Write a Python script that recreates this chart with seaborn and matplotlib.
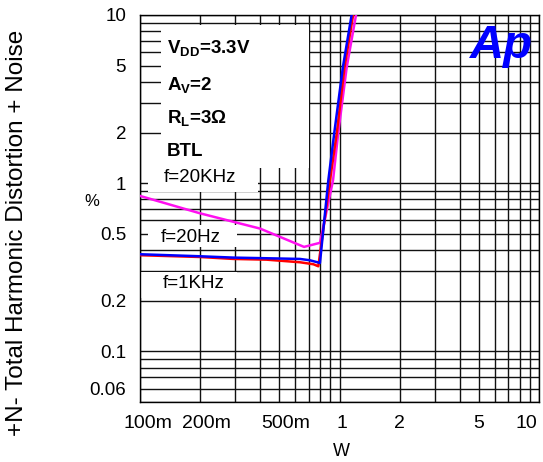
import matplotlib
matplotlib.use("Agg")
import matplotlib.pyplot as plt
import matplotlib.transforms as mtransforms
import numpy as np
import pandas as pd
import seaborn as sns
from matplotlib.patches import Rectangle
from matplotlib.ticker import LogLocator, NullFormatter

# data (W, %)
power_20khz = [0.1, 0.2, 0.4, 0.664, 0.798, 0.928, 0.986, 1.087, 1.21]
thd_20khz = [0.84, 0.662, 0.537, 0.418, 0.442, 1.04, 2.0, 4.9, 10.0]

power_1khz = [0.1, 0.2, 0.294, 0.431, 0.634, 0.74, 0.783, 0.896, 0.97, 1.06, 1.17]
thd_1khz = [0.373, 0.364, 0.3545, 0.351, 0.3387, 0.3296, 0.3206, 1.04, 2.0, 4.9, 10.0]

power_20hz = [0.1, 0.2, 0.294, 0.431, 0.634, 0.711, 0.798, 0.879, 0.942, 1.04, 1.15]
thd_20hz = [0.378, 0.3677, 0.361, 0.3578, 0.3545, 0.348, 0.3356, 1.04, 2.0, 4.9, 10.0]

x_ticks = [0.1, 0.2, 0.5, 1, 2, 5, 10]
x_labels = ["100m", "200m", "500m", "1", "2", "5", "10"]
y_ticks = [0.06, 0.1, 0.2, 0.5, 1, 2, 5, 10]
y_labels = ["0.06", "0.1", "0.2", "0.5", "1", "2", "5", "10"]

sns.set_theme(style="white")
plt.rcParams["font.family"] = ["Liberation Sans", "DejaVu Sans"]
plt.rcParams["text.color"] = "black"
plt.rcParams["xtick.color"] = "black"
plt.rcParams["ytick.color"] = "black"
plt.rcParams["mathtext.fontset"] = "custom"
plt.rcParams["mathtext.rm"] = "Liberation Sans"
plt.rcParams["mathtext.bf"] = "Liberation Sans:bold"

fig = plt.figure(figsize=(5.43, 4.62), dpi=100)
ax = fig.add_axes([140 / 543, 1 - 402 / 462, 399 / 543, 387 / 462])

curves = [
    (power_20khz, thd_20khz, "#ff10f0"),
    (power_1khz, thd_1khz, "#ff0000"),
    (power_20hz, thd_20hz, "#0000ff"),
]
for xs, ys, col in curves:
    df = pd.DataFrame({"W": xs, "THD": ys})
    sns.lineplot(data=df, x="W", y="THD", ax=ax, color=col, lw=1.8, sort=False, zorder=4)

ax.set_xscale("log")
ax.set_yscale("log")
ax.set_xlim(0.1, 10)
ax.set_ylim(0.05, 10)

ax.set_xticks(x_ticks)
ax.set_xticklabels(x_labels)
ax.set_yticks(y_ticks)
ax.set_yticklabels(y_labels)
for axis in (ax.xaxis, ax.yaxis):
    axis.set_minor_locator(LogLocator(base=10, subs=np.arange(2, 10)))
    axis.set_minor_formatter(NullFormatter())
ax.tick_params(which="both", length=0, colors="black")
ax.tick_params(axis="y", pad=10, labelsize=13.5)
ax.tick_params(axis="x", pad=9, labelsize=14)

# shift x labels sideways like the reference
x_shift = [8, 6, 6, 2, 0, 0, -13]
for lab, dx in zip(ax.get_xticklabels(), x_shift):
    lab.set_transform(lab.get_transform() + mtransforms.ScaledTranslation(dx / 100, 0, fig.dpi_scale_trans))

ax.grid(which="both", color="#111111", lw=1.0)
ax.set_axisbelow(True)
for sp in ax.spines.values():
    sp.set_color("black")
    sp.set_linewidth(1.0)

ax.set_xlabel("")
ax.set_ylabel("")

# white label boxes over the grid
boxes = [
    (161, 25, 309, 168),
    (148, 168, 258, 192),
    (148, 225, 237, 247),
    (141, 272, 237, 298),
]
for x0, y0, x1, y1 in boxes:
    ax.add_patch(Rectangle(((x0 - 140) / 399, (402 - y1) / 387), (x1 - x0) / 399, (y1 - y0) / 387,
                           transform=ax.transAxes, facecolor="white", edgecolor="none", zorder=2))


def px(x, y):
    return (x - 140) / 399, (402 - y) / 387


params = [
    (48, r"$\mathbf{V_{DD}}$=3.3V"),
    (85, r"$\mathbf{A_{V}}$=2"),
    (118, r"$\mathbf{R_{L}}$=3Ω"),
    (152, "BTL"),
]
for yy, s in params:
    ax.text(*px(167, yy), s, transform=ax.transAxes, fontsize=13.5, fontweight="bold",
            va="center", ha="left", zorder=3)

ax.text(*px(164, 177), "f=20KHz", transform=ax.transAxes, fontsize=13.5, va="center", zorder=3)
ax.text(*px(161, 238), "f=20Hz", transform=ax.transAxes, fontsize=13.5, va="center", zorder=3)
ax.text(*px(163, 284), "f=1KHz", transform=ax.transAxes, fontsize=13.5, va="center", zorder=3)

ax.text(*px(501, 46), "Ap", transform=ax.transAxes, fontsize=34, fontweight="bold",
        fontstyle="italic", color="#0000ff", ha="center", va="center", zorder=3)

fig.text(92 / 543, 1 - 201 / 462, "%", fontsize=12, ha="center", va="center")
fig.text(341 / 543, 1 - 452 / 462, "W", fontsize=13, ha="center", va="center")
fig.text(17 / 543, 1 - 233 / 462, "+N- Total Harmonic Distortion + Noise", fontsize=17.5,
         rotation=90, ha="center", va="center")

fig.savefig("out.png", dpi=100)
